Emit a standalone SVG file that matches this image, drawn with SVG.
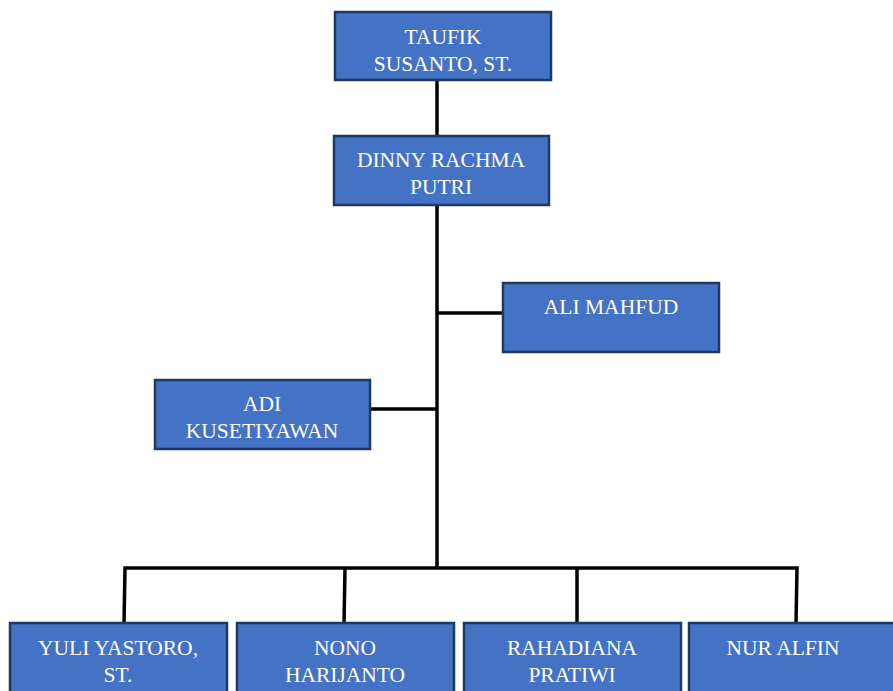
<svg xmlns="http://www.w3.org/2000/svg" width="893" height="691" viewBox="0 0 893 691">
<style>
.box{fill:#4472C4;stroke:#1F3864;stroke-width:2.5}
.t{font-family:"Liberation Serif","Times New Roman",serif;font-size:21.5px;fill:#fff;text-anchor:middle}
.c{stroke:#000;stroke-width:3.5;fill:none}
</style>
<rect width="893" height="691" fill="#fff"/>
<g id="connectors">
<line class="c" x1="437" y1="80" x2="437" y2="137"/>
<line class="c" x1="437" y1="204" x2="437" y2="569"/>
<line class="c" x1="437" y1="313" x2="503" y2="313"/>
<line class="c" x1="370" y1="409" x2="437" y2="409"/>
<polyline class="c" points="124,624 125,568 797,568 796,624"/>
<line class="c" x1="345" y1="568" x2="344" y2="624"/>
<line class="c" x1="577" y1="568" x2="577" y2="624"/>
</g>
<g id="taufik"><rect class="box" x="335" y="12" width="216" height="68"/><text class="t" x="443" y="44">TAUFIK</text><text class="t" x="443" y="71">SUSANTO, ST.</text></g>
<g id="dinny"><rect class="box" x="334" y="136" width="215" height="69"/><text class="t" x="441" y="167">DINNY RACHMA</text><text class="t" x="441" y="194">PUTRI</text></g>
<g id="ali"><rect class="box" x="503" y="283" width="216" height="69"/><text class="t" x="611" y="314">ALI MAHFUD</text></g>
<g id="adi"><rect class="box" x="155" y="380" width="215" height="69"/><text class="t" x="262" y="411">ADI</text><text class="t" x="262" y="438">KUSETIYAWAN</text></g>
<g id="yuli"><rect class="box" x="10" y="623" width="217" height="75"/><text class="t" x="118" y="655">YULI YASTORO,</text><text class="t" x="118" y="682">ST.</text></g>
<g id="nono"><rect class="box" x="237" y="623" width="217" height="75"/><text class="t" x="345" y="655">NONO</text><text class="t" x="345" y="682">HARIJANTO</text></g>
<g id="rahadiana"><rect class="box" x="464" y="623" width="217" height="75"/><text class="t" x="572" y="655">RAHADIANA</text><text class="t" x="572" y="682">PRATIWI</text></g>
<g id="nur"><rect class="box" x="689" y="623" width="215" height="75"/><text class="t" x="783" y="655">NUR ALFIN</text></g>
</svg>
